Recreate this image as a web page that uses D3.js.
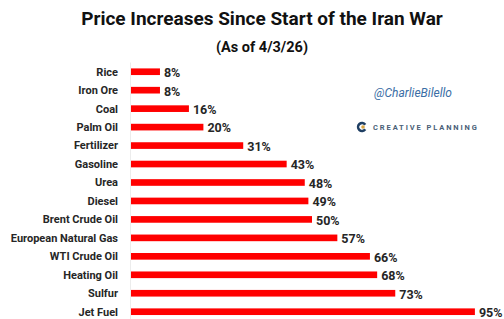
<!DOCTYPE html>
<html>
<head>
<meta charset="utf-8">
<script src="https://cdn.jsdelivr.net/npm/d3@7"></script>
<style>
  body { margin: 0; background: #fff; }
  svg { display: block; }
</style>
</head>
<body>
<div id="canvas"></div>
<script>
// DATA ========================================================================

var CATEGORIES = ["Rice", "Iron Ore", "Coal", "Palm Oil", "Fertilizer", "Gasoline", "Urea",
    "Diesel", "Brent Crude Oil", "European Natural Gas", "WTI Crude Oil", "Heating Oil",
    "Sulfur", "Jet Fuel"]

var VALUES = [8, 8, 16, 20, 31, 43, 48, 49, 50, 57, 66, 68, 73, 95]

var TITLE = "Price Increases Since Start of the Iran War"
var SUBTITLE = "(As of 4/3/26)"

// SETTINGS ====================================================================

var WIDTH = 504
var HEIGHT = 319
var FONT = "Roboto, 'Open Sans', sans-serif"
var RED = "#ff0000"
var TEXT = "#262626"

var margin = { top: 62, left: 131, right: 11, bottom: 0 }

// CHART =======================================================================

var svg = d3.select("#canvas").append("svg")
    .attr("width", WIDTH)
    .attr("height", HEIGHT)
    .attr("font-family", FONT)

svg.append("text")
    .attr("x", 262).attr("y", 25)
    .attr("text-anchor", "middle")
    .attr("font-size", "19px")
    .attr("font-weight", "bold")
    .attr("fill", "#111")
    .text(TITLE)

svg.append("text")
    .attr("x", 262).attr("y", 52)
    .attr("text-anchor", "middle")
    .attr("font-size", "14.5px")
    .attr("font-weight", "bold")
    .attr("fill", "#111")
    .text(SUBTITLE)

var x = d3.scaleLinear().domain([0, 100]).range([margin.left, margin.left + 362])

var y = d3.scaleBand()
    .domain(CATEGORIES)
    .range([62.5, 62.5 + 18.46 * CATEGORIES.length])
    .paddingInner(0.64)
    .paddingOuter(0.32)

// faint baseline
svg.append("line")
    .attr("x1", x(0) - 0.5).attr("x2", x(0) - 0.5)
    .attr("y1", y.range()[0]).attr("y2", HEIGHT)
    .attr("stroke", "#ececec")

var rows = svg.append("g").selectAll("g")
    .data(CATEGORIES.map((c, i) => ({ name: c, value: VALUES[i] })))
    .enter().append("g")

rows.append("rect")
    .attr("x", x(0))
    .attr("y", d => y(d.name))
    .attr("width", d => x(d.value) - x(0))
    .attr("height", y.bandwidth())
    .attr("fill", RED)

rows.append("text")
    .attr("x", x(0) - 13)
    .attr("y", d => y(d.name) + y.bandwidth() / 2)
    .attr("dy", "0.35em")
    .attr("text-anchor", "end")
    .attr("font-size", "11px")
    .attr("font-weight", "bold")
    .attr("fill", TEXT)
    .text(d => d.name)

rows.append("text")
    .attr("x", d => x(d.value) + 4)
    .attr("y", d => y(d.name) + y.bandwidth() / 2 + 1)
    .attr("dy", "0.35em")
    .attr("font-size", "12.5px")
    .attr("font-weight", "bold")
    .attr("fill", TEXT)
    .text(d => d.value + "%")

// WATERMARK ===================================================================

svg.append("text")
    .attr("x", 413).attr("y", 97)
    .attr("text-anchor", "middle")
    .attr("font-size", "12px")
    .attr("font-style", "italic")
    .attr("fill", "#3a6ea5")
    .text("@CharlieBilello")

var logo = svg.append("g").attr("transform", "translate(362,127)")
logo.append("path")
    .attr("d", d3.arc()({ innerRadius: 2.6, outerRadius: 5.2, startAngle: 0.6, endAngle: 2 * Math.PI - 0.6 }))
    .attr("transform", "rotate(90)")
    .attr("fill", "#1f3f63")
logo.append("circle").attr("cx", 1).attr("cy", 0).attr("r", 1.8).attr("fill", "#d9a441")
logo.append("text")
    .attr("x", 11).attr("y", 3)
    .attr("font-size", "7.5px")
    .attr("font-weight", "bold")
    .attr("letter-spacing", "1.9px")
    .attr("fill", "#4a5f78")
    .text("CREATIVE PLANNING")
</script>
</body>
</html>
